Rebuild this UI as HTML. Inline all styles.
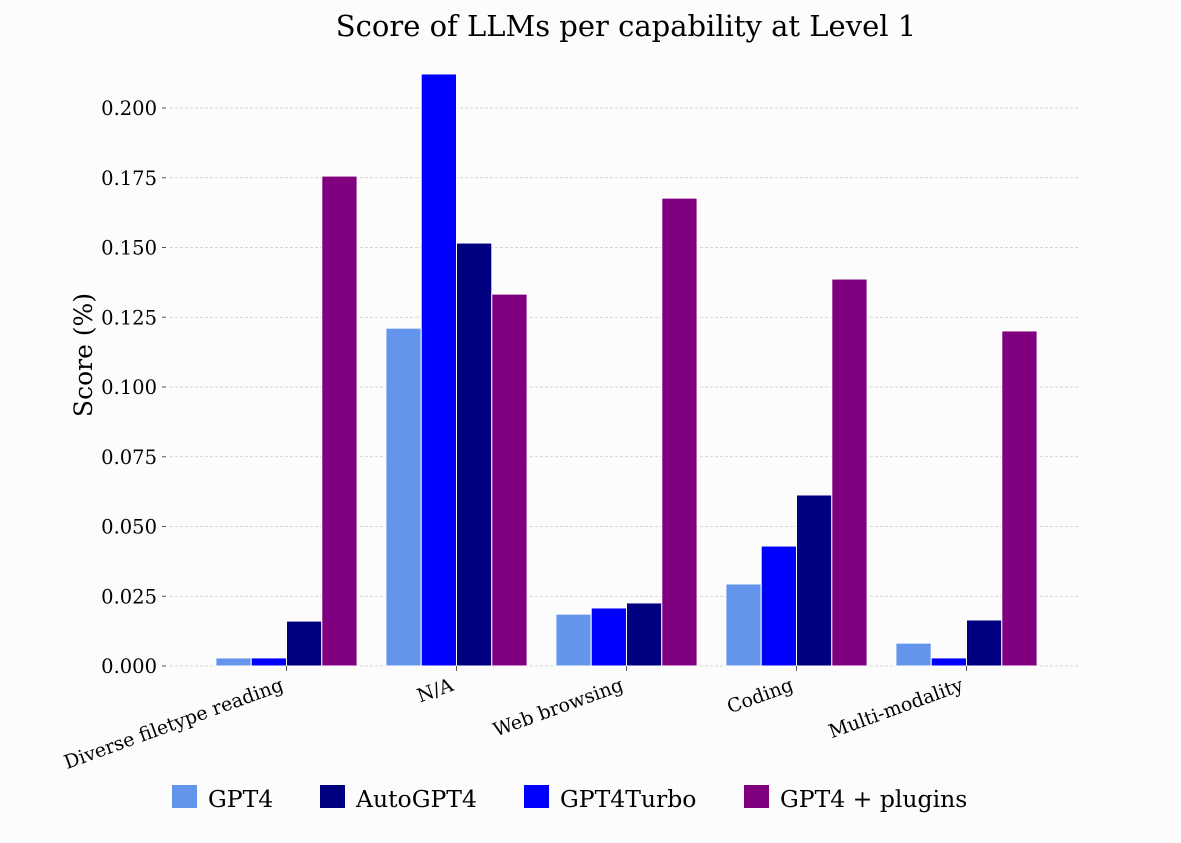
<!DOCTYPE html>
<html><head><meta charset="utf-8"><style>
html,body{margin:0;padding:0;background:#fcfcfc;}
svg text{font-family:"DejaVu Serif","Liberation Serif",serif;fill:#000;}
</style></head><body>
<svg id="chart" width="1181" height="838" viewBox="0 0 1181 838" xmlns="http://www.w3.org/2000/svg">
<rect x="0" y="0" width="1181" height="838" fill="#fcfcfc"/>
<text x="626" y="36" font-size="29" text-anchor="middle">Score of LLMs per capability at Level 1</text>
<text transform="translate(92,355) rotate(-90)" font-size="25" text-anchor="middle">Score (%)</text>
<g id="grid"></g><g id="bars"></g><g id="xlabels"></g><g id="legend"></g>
</svg>
<script>
const categories = ["Diverse filetype reading","N/A","Web browsing","Coding","Multi-modality"];
const seriesNames = ["GPT4","GPT4Turbo","AutoGPT4","GPT4 + plugins"];
const gpt4 = [0.0029,0.1211,0.0186,0.0294,0.0082];
const gpt4turbo = [0.0029,0.2122,0.0208,0.0430,0.0029];
const autogpt4 = [0.0161,0.1516,0.0226,0.0613,0.0165];
const plugins = [0.1756,0.1333,0.1677,0.1387,0.1201];
const yTicks = [0,0.025,0.05,0.075,0.1,0.125,0.15,0.175,0.2];
const yTickLabels = ["0.000","0.025","0.050","0.075","0.100","0.125","0.150","0.175","0.200"];
const legendNames = ["GPT4","AutoGPT4","GPT4Turbo","GPT4 + plugins"];

const NS="http://www.w3.org/2000/svg";
const colors={"GPT4":"#6495ed","GPT4Turbo":"#0000ff","AutoGPT4":"#000080","GPT4 + plugins":"#800080"};
const x0=170,x1=1080,y0=666,pxPerUnit=2790;
const y=v=>y0-v*pxPerUnit;
const xc=i=>286.5+i*170;
const bw=35.3;
function mk(t,a,p){const e=document.createElementNS(NS,t);for(const k in a)e.setAttribute(k,a[k]);p.appendChild(e);return e;}
const grid=document.getElementById('grid');
yTicks.forEach((t,i)=>{
  const l=mk('line',{x1:x0,x2:x1,y1:y(t),y2:y(t),stroke:'#c8c8c8','stroke-width':0.8,'stroke-dasharray':'3,2'},grid);
  
  
  const tx=mk('text',{x:157,y:y(t)+7,'font-size':19.5,'text-anchor':'end'},grid);
  tx.textContent=yTickLabels[i];
  
  
  const tk=mk('line',{x1:162,x2:166,y1:y(t),y2:y(t),stroke:'#555','stroke-width':1},grid);
  
  
});
const data=[gpt4,gpt4turbo,autogpt4,plugins];
const bars=document.getElementById('bars');
categories.forEach((c,i)=>{
  data.forEach((s,j)=>{
    const v=s[i];
    const r=mk('rect',{x:xc(i)-2*bw+j*bw,y:y(v),width:bw,height:y0-y(v),fill:colors[seriesNames[j]],stroke:'#fff','stroke-width':1},bars);
    
    
  });
  const tk=mk('line',{x1:xc(i),x2:xc(i),y1:y0,y2:y0+5,stroke:'#555','stroke-width':1},bars);
  
  
  const t=mk('text',{transform:`translate(${xc(i)-2},${y0+24}) rotate(-20)`,'font-size':19,'text-anchor':'end'},document.getElementById('xlabels'));
  t.textContent=c;
  
  
});
const lg=document.getElementById('legend');
const lx=[172,320,524,744];
legendNames.forEach((n,i)=>{
  const r=mk('rect',{x:lx[i],y:785,width:25,height:23,fill:colors[n]},lg);
  
  
  const t=mk('text',{x:lx[i]+36,y:807,'font-size':23.5},lg);
  t.textContent=n;
  
  
});
</script>
</body></html>
